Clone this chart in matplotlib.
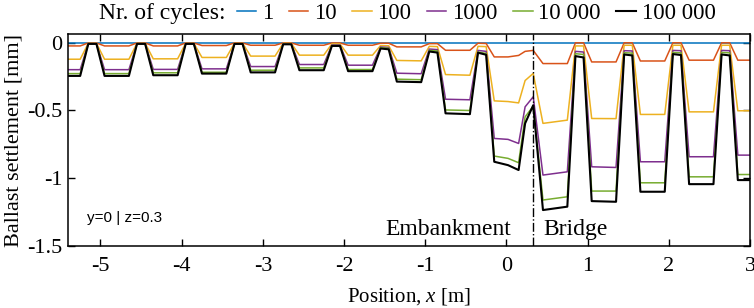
import matplotlib
matplotlib.use('Agg')
import matplotlib.pyplot as plt

# positions along the track [m]
x_pos = [-5.4, -5.25,
         -5.15, -5.05, -4.95, -4.65,
         -4.55, -4.45, -4.35, -4.05,
         -3.95, -3.85, -3.75, -3.45,
         -3.35, -3.25, -3.15, -2.85,
         -2.75, -2.65, -2.55, -2.25,
         -2.15, -2.05, -1.95, -1.65,
         -1.55, -1.45, -1.35, -1.05,
         -0.95, -0.85, -0.75, -0.45,
         -0.35, -0.25, -0.15, 0.02, 0.15, 0.23, 0.33,
         0.45, 0.75,
         0.85, 0.95, 1.05, 1.35,
         1.45, 1.55, 1.65, 1.95,
         2.05, 2.15, 2.25, 2.55,
         2.65, 2.75, 2.85, 3.0]

# settlement [mm] for each number of cycles
n1 = [0, 0,
      0, 0, 0, 0,
      0, 0, 0, 0,
      0, 0, 0, 0,
      0, 0, 0, 0,
      0, 0, 0, 0,
      0, 0, 0, 0,
      0, 0, 0, 0,
      0, 0, 0, 0,
      0, 0, 0, 0, 0, 0, 0,
      0, 0,
      0, 0, 0, 0,
      0, 0, 0, 0,
      0, 0, 0, 0,
      0, 0, 0, 0]

n10 = [-0.025, -0.025,
       -0.003, -0.003, -0.025, -0.025,
       -0.003, -0.003, -0.025, -0.025,
       -0.003, -0.003, -0.022, -0.022,
       -0.003, -0.003, -0.020, -0.020,
       -0.003, -0.003, -0.020, -0.020,
       -0.003, -0.003, -0.020, -0.020,
       -0.005, -0.005, -0.032, -0.032,
       -0.008, -0.008, -0.057, -0.057,
       -0.005, -0.007, -0.106, -0.106, -0.095, -0.065, -0.058,
       -0.155, -0.155,
       -0.002, -0.002, -0.143, -0.143,
       -0.002, -0.002, -0.136, -0.136,
       -0.002, -0.002, -0.130, -0.130,
       -0.002, -0.002, -0.130, -0.130]

n100 = [-0.123, -0.123,
        -0.005, -0.005, -0.123, -0.123,
        -0.005, -0.005, -0.120, -0.120,
        -0.005, -0.005, -0.110, -0.110,
        -0.005, -0.005, -0.100, -0.100,
        -0.006, -0.006, -0.093, -0.093,
        -0.010, -0.010, -0.093, -0.093,
        -0.022, -0.024, -0.132, -0.135,
        -0.028, -0.030, -0.236, -0.241,
        -0.028, -0.030, -0.430, -0.435, -0.445, -0.280, -0.228,
        -0.596, -0.572,
        -0.025, -0.025, -0.560, -0.561,
        -0.020, -0.020, -0.530, -0.530,
        -0.020, -0.020, -0.511, -0.511,
        -0.020, -0.020, -0.503, -0.503]

n1000 = [-0.200, -0.200,
         -0.007, -0.007, -0.200, -0.200,
         -0.007, -0.007, -0.198, -0.198,
         -0.007, -0.007, -0.194, -0.194,
         -0.008, -0.008, -0.177, -0.177,
         -0.010, -0.010, -0.162, -0.162,
         -0.018, -0.018, -0.167, -0.167,
         -0.033, -0.036, -0.226, -0.230,
         -0.048, -0.052, -0.418, -0.422,
         -0.058, -0.065, -0.707, -0.714, -0.744, -0.474, -0.400,
         -0.977, -0.953,
         -0.065, -0.070, -0.916, -0.921,
         -0.060, -0.062, -0.879, -0.879,
         -0.058, -0.060, -0.842, -0.842,
         -0.058, -0.060, -0.830, -0.830]

n10000 = [-0.229, -0.229,
          -0.008, -0.008, -0.229, -0.229,
          -0.008, -0.008, -0.223, -0.223,
          -0.008, -0.008, -0.219, -0.219,
          -0.009, -0.009, -0.204, -0.204,
          -0.012, -0.012, -0.187, -0.187,
          -0.022, -0.022, -0.199, -0.199,
          -0.038, -0.042, -0.270, -0.274,
          -0.058, -0.062, -0.497, -0.501,
          -0.070, -0.080, -0.837, -0.854, -0.886, -0.548, -0.469,
          -1.161, -1.137,
          -0.082, -0.088, -1.095, -1.095,
          -0.075, -0.078, -1.034, -1.034,
          -0.073, -0.076, -0.990, -0.990,
          -0.073, -0.076, -0.973, -0.973]

n100000 = [-0.246, -0.246,
           -0.010, -0.010, -0.246, -0.246,
           -0.010, -0.010, -0.241, -0.241,
           -0.010, -0.010, -0.229, -0.229,
           -0.010, -0.010, -0.220, -0.220,
           -0.013, -0.013, -0.204, -0.204,
           -0.025, -0.025, -0.211, -0.211,
           -0.044, -0.050, -0.288, -0.292,
           -0.066, -0.074, -0.522, -0.528,
           -0.075, -0.090, -0.879, -0.904, -0.940, -0.596, -0.462,
           -1.235, -1.210,
           -0.100, -0.110, -1.169, -1.174,
           -0.088, -0.095, -1.100, -1.100,
           -0.085, -0.092, -1.044, -1.044,
           -0.088, -0.095, -1.014, -1.014]

cycle_labels = ['1', '10', '100', '1000', '10 000', '100 000']
colors = ['#0072BD', '#D95319', '#EDB120', '#7E2F8E', '#77AC30', 'k']
x_transition = 0.33

plt.rcParams['font.family'] = ['Liberation Serif', 'DejaVu Serif']
plt.rcParams['mathtext.fontset'] = 'custom'
plt.rcParams['mathtext.rm'] = 'Liberation Serif'
plt.rcParams['mathtext.it'] = 'Liberation Serif:italic'

fig = plt.figure(figsize=(7.54, 3.08), dpi=100)
ax = fig.add_axes([0.0902, 0.2013, 0.9045, 0.687])

series = [n1, n10, n100, n1000, n10000, n100000]
for vals, lab, col in zip(series, cycle_labels, colors):
    lw = 1.5 if col == 'k' else 1.1
    ax.plot(x_pos, vals, color=col, lw=lw, label=lab)

# embankment / bridge transition
ax.axvline(x_transition, color='k', ls='-.', lw=1.0)

ax.set_xlim(-5.4, 3.0)
ax.set_ylim(-1.5, 0.06)
ax.set_xticks([-5, -4, -3, -2, -1, 0, 1, 2, 3])
ax.set_yticks([0, -0.5, -1, -1.5])
ax.set_yticklabels(['0', '-0.5', '-1', '-1.5'])
ax.set_xticklabels(['-5', '-4', '-3', '-2', '-1', '0', '1', '2', '3'])
ax.tick_params(direction='in', top=True, right=True, length=5, width=1.0,
               labelsize=16)
ax.tick_params(axis='x', pad=8)
ax.tick_params(axis='y', pad=4)
for s in ax.spines.values():
    s.set_linewidth(1.1)

ax.set_xlabel('Position, $x$ [m]', fontsize=15, labelpad=7)
ax.set_ylabel('Ballast settlement [mm]', fontsize=16, labelpad=3)

ax.text(0.06, -1.375, 'Embankment', fontsize=17, ha='right', va='center')
ax.text(0.45, -1.375, 'Bridge', fontsize=17, ha='left', va='center')
ax.text(-5.16, -1.29, 'y=0 | z=0.3', fontsize=11, family='Liberation Sans',
        ha='left', va='center')

# legend with inline title
fig.text(0.131, 0.955, 'Nr. of cycles:', fontsize=17, ha='left', va='center')
ax.legend(loc='center left', bbox_to_anchor=(0.314, 0.955),
          bbox_transform=fig.transFigure, ncol=6, frameon=False,
          fontsize=16.5, handlelength=0.85, handletextpad=0.25,
          columnspacing=0.68, borderpad=0, borderaxespad=0)

fig.savefig('out.png', dpi=100)
